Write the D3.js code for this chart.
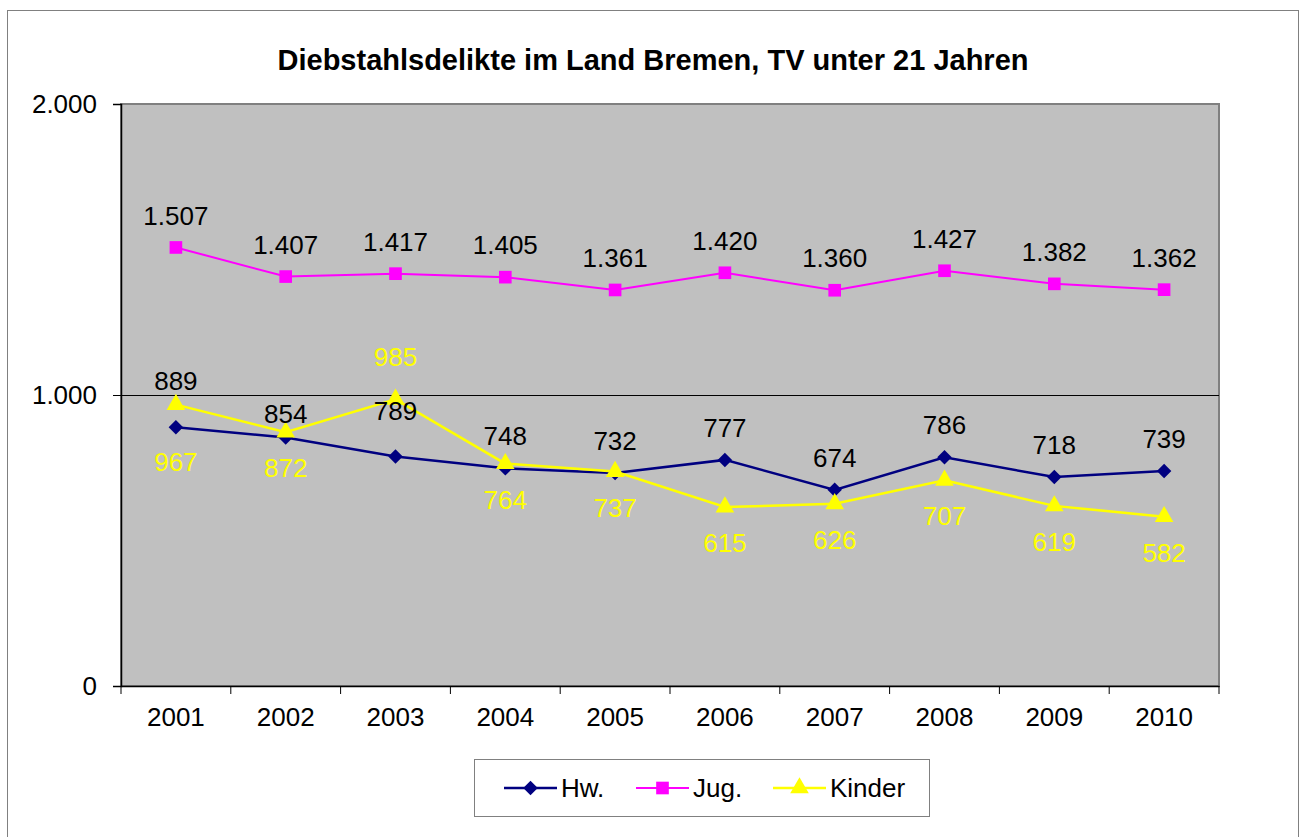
<!DOCTYPE html>
<html><head><meta charset="utf-8">
<script src="https://cdn.jsdelivr.net/npm/d3@7/dist/d3.min.js"></script>
<style>body{margin:0;background:#fff}svg{display:block;font-family:"Liberation Sans",Arial,sans-serif}</style>
</head><body>
<script>
const years = ["2001","2002","2003","2004","2005","2006","2007","2008","2009","2010"];
const hw = [889,854,789,748,732,777,674,786,718,739];
const jug = [1507,1407,1417,1405,1361,1420,1360,1427,1382,1362];
const kinder = [967,872,985,764,737,615,626,707,619,582];
const yTicks = [0,1000,2000];
const title = "Diebstahlsdelikte im Land Bremen, TV unter 21 Jahren";

const W=1301,H=837,FS=26;
const svg=d3.select("body").append("svg").attr("width",W).attr("height",H);
svg.append("rect").attr("x",7.5).attr("y",10.5).attr("width",1291).attr("height",840).attr("fill","#fff").attr("stroke","#808080").attr("stroke-width",1);

const L=121,R=1219,T=104,B=686;
const x=d3.scaleBand().domain(years).range([L,R]);
const y=d3.scaleLinear().domain([0,2000]).range([B,T]);
const fmt=v=>d3.format(",")(v).replace(/,/g,".");

svg.append("text").attr("x",653).attr("y",70).attr("text-anchor","middle").attr("font-weight","bold").attr("font-size",29).text(title);

svg.append("rect").attr("x",L).attr("y",T).attr("width",R-L).attr("height",B-T).attr("fill","#C0C0C0").attr("stroke","#808080").attr("stroke-width",2);
svg.selectAll(".grid").data(yTicks.filter(d=>d>0&&d<2000)).join("line").attr("x1",L).attr("x2",R).attr("y1",d=>y(d)+0.5).attr("y2",d=>y(d)+0.5).attr("stroke","#000").attr("stroke-width",1);

const ya=svg.append("g").attr("transform",`translate(${L},0)`).call(d3.axisLeft(y).tickValues(yTicks).tickSize(8).tickPadding(16).tickFormat(fmt));
ya.selectAll("text").attr("font-size",FS).attr("fill","#000").attr("font-family","Liberation Sans, Arial, sans-serif");
ya.select(".domain").attr("stroke","#000").attr("stroke-width",1.5);
ya.selectAll(".tick line").attr("stroke","#000");

const xa=svg.append("g").attr("transform",`translate(0,${B})`).call(d3.axisBottom(x).tickSize(0).tickPadding(22));
xa.selectAll("text").attr("font-size",FS).attr("fill","#000").attr("font-family","Liberation Sans, Arial, sans-serif");
xa.select(".domain").attr("stroke","#000").attr("stroke-width",1.5);
const bounds=years.map(d=>x(d)).concat([R]);
xa.selectAll(".bt").data(bounds).join("line").attr("x1",d=>d).attr("x2",d=>d).attr("y1",0).attr("y2",8).attr("stroke","#000");

const cx=d=>x(d)+x.bandwidth()/2;
const series=[
 {name:"Hw.",vals:hw,color:"#000080",sym:d3.symbolSquare,size:105,rot:45,lw:2.5,label:"#000"},
 {name:"Jug.",vals:jug,color:"#FF00FF",sym:d3.symbolSquare,size:160,rot:0,lw:2,label:"#000"},
 {name:"Kinder",vals:kinder,color:"#FFFF00",sym:d3.symbolTriangle,size:150,rot:0,lw:2.5,label:"#FFFF00"}
];
const line=d3.line().x(d=>cx(d[0])).y(d=>y(d[1]));
series.forEach(s=>{
  const pts=years.map((yr,i)=>[yr,s.vals[i]]);
  svg.append("path").datum(pts).attr("d",line).attr("fill","none").attr("stroke",s.color).attr("stroke-width",s.lw);
});
series.forEach(s=>{
  const pts=years.map((yr,i)=>[yr,s.vals[i]]);
  svg.selectAll(null).data(pts).join("path").attr("d",d3.symbol(s.sym,s.size)).attr("transform",d=>`translate(${cx(d[0])},${y(d[1])}) rotate(${s.rot})`).attr("fill",s.color);
});
const dyOverride={"Hw.":{"2001":-46,"2002":-24,"2003":-46},"Kinder":{"2001":57,"2003":-42}};
const dyDefault={"Hw.":-32,"Jug.":-32,"Kinder":36};
series.forEach(s=>{
  const pts=years.map((yr,i)=>[yr,s.vals[i]]);
  svg.selectAll(null).data(pts).join("text").attr("x",d=>cx(d[0])).attr("y",d=>y(d[1])+((dyOverride[s.name]||{})[d[0]]??dyDefault[s.name]))
   .attr("dy","0.35em").attr("text-anchor","middle").attr("font-size",FS).attr("fill",s.label).text(d=>fmt(d[1]));
});

const lg=svg.append("g");
lg.append("rect").attr("x",474.5).attr("y",759.5).attr("width",455).attr("height",57).attr("fill","#fff").attr("stroke","#808080").attr("stroke-width",1);
const lx=[504,636,773];
series.forEach((s,i)=>{
  const g=lg.append("g").attr("transform",`translate(${lx[i]},788)`);
  g.append("line").attr("x1",0).attr("x2",53).attr("y1",0).attr("y2",0).attr("stroke",s.color).attr("stroke-width",s.lw);
  g.append("path").attr("d",d3.symbol(s.sym,s.size)).attr("transform",`translate(26.5,0) rotate(${s.rot})`).attr("fill",s.color);
  g.append("text").attr("x",57).attr("y",0).attr("dy","0.35em").attr("font-size",FS).attr("fill","#000").text(s.name);
});
</script>
</body></html>
